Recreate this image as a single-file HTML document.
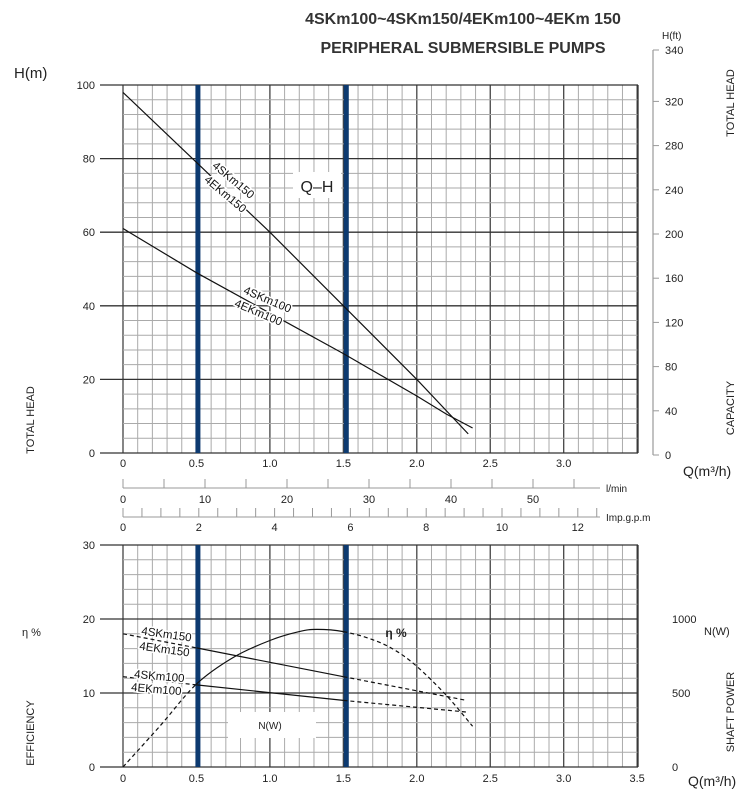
<!DOCTYPE html>
<html><head><meta charset="utf-8"><style>
body{margin:0;background:#fff;}
svg{display:block;font-family:"Liberation Sans",sans-serif;}
</style></head><body>
<svg id="c" width="748" height="800" viewBox="0 0 748 800"></svg>
<script>
// ---- data ----
const qh150Q=[0,0.5,1.0,1.5,2.0,2.35];
const qh150H=[98,79,60,40,20,5.2];
const qh100Q=[0,0.5,1.0,1.5,2.0,2.2,2.38];
const qh100H=[61,49,38,27,15.5,10.6,6.8];
const etaQ=[0,0.25,0.5,0.75,1.0,1.2,1.32,1.5,1.7,1.85,2.0,2.2,2.38];
const etaV=[0,5.5,11.2,14.8,17.1,18.3,18.6,18.3,17.2,15.8,13.6,9.7,5.5];
const n150Q=[0,0.5,1.5,2.34];
const n150W=[900,805,610,450];
const n100Q=[0,0.5,1.5,2.35];
const n100W=[610,555,450,370];
const blueQ=[0.51,1.52];
const topYTicks=[0,20,40,60,80,100];
const ftTicks=[0,40,80,120,160,200,240,280,320];
const qTicksTop=["0","0.5","1.0","1.5","2.0","2.5","3.0"];
const qTicksBot=["0","0.5","1.0","1.5","2.0","2.5","3.0","3.5"];
const lminTicks=[0,10,20,30,40,50];
const gpmTicks=[0,2,4,6,8,10,12];
const effTicks=[0,10,20,30];
const nTicks=[0,500,1000];

const NS="http://www.w3.org/2000/svg";
const svg=document.getElementById('c');
function el(tag,attrs,name,parent){const e=document.createElementNS(NS,tag);for(const k in attrs)e.setAttribute(k,attrs[k]);


(parent||svg).appendChild(e);return e;}
function txt(x,y,s,name,opt){opt=opt||{};const t=el('text',Object.assign({x:x,y:y,'font-size':opt.fs||11,'text-anchor':opt.a||'middle',fill:'#222'},opt.attrs||{}),name);t.textContent=s;return t;}
const X0=123,XS=146.9;
const xQ=q=>X0+q*XS;
const yT=h=>453-h*3.68;
const yB=e=>767-e*7.4;
const yN=w=>yB(w/50);
const yFt=f=>455-f*1.105;

// ---- grids ----
function grid(yTop,yBot,yStep,ymaj){
 const g=el('g',{},'grid');
 for(let i=0;i<=35;i++){const x=xQ(i*0.1);const maj=i%5==0;
  el('line',{x1:x,x2:x,y1:yTop,y2:yBot,stroke:maj?'#444':'#aaa','stroke-width':maj?1.3:1},'grid-v',g);}
 const n=Math.round((yBot-yTop)/yStep);
 for(let j=0;j<=n;j++){const y=yBot-j*yStep;const maj=j%ymaj==0;
  el('line',{x1:maj?100:X0,x2:638,y1:y,y2:y,stroke:maj?'#333':'#aaa','stroke-width':maj?1.3:1},'grid-h',g);}
}
grid(yT(100),yT(0),3.68*4,5);
grid(yB(30),yB(0),7.4*2,5);
el('line',{x1:638,x2:638,y1:yT(100),y2:yT(0),stroke:'#333','stroke-width':1.3},'plot-right-edge');
el('line',{x1:638,x2:638,y1:yB(30),y2:yB(0),stroke:'#333','stroke-width':1.3},'plot-right-edge');
blueQ.forEach(q=>{el('line',{x1:xQ(q),x2:xQ(q),y1:yT(100),y2:yT(0),stroke:'#0d3a70','stroke-width':5},'operating-range-line');
 el('line',{x1:xQ(q),x2:xQ(q),y1:yB(30),y2:yB(0),stroke:'#0d3a70','stroke-width':5},'operating-range-line');});

// ---- axes labels ----
topYTicks.forEach(v=>txt(95,yT(v)+4,String(v),'y-tick-label',{a:'end'}));
ftTicks.forEach(v=>{el('line',{x1:653,x2:659,y1:yFt(v),y2:yFt(v),stroke:'#999'},'ft-tick');txt(665,yFt(v)+4,String(v),'ft-tick-label',{a:'start'});});
el('line',{x1:653,x2:653,y1:50,y2:yFt(0),stroke:'#999','stroke-width':1.2},'ft-axis');
el('line',{x1:653,x2:659,y1:50,y2:50,stroke:'#999'},'ft-tick');
txt(665,54,'340','ft-tick-label',{a:'start'});
txt(662,39,'H(ft)','ft-axis-title',{a:'start',fs:10});
qTicksTop.forEach((s,i)=>txt(xQ(i*0.5),467,s,'x-tick-label'));
el('line',{x1:X0,x2:600,y1:488,y2:488,stroke:'#999'},'lmin-axis');
for(let v=0;v<=55;v+=5){const x=X0+v*8.2;el('line',{x1:x,x2:x,y1:479,y2:488,stroke:'#999'},'lmin-tick');}
lminTicks.forEach(v=>txt(X0+v*8.2,503,String(v),'lmin-tick-label'));
txt(606,492,'l/min','lmin-unit',{a:'start',fs:10});
el('line',{x1:X0,x2:600,y1:517,y2:517,stroke:'#999'},'gpm-axis');
for(let v=0;v<=12.5;v+=0.5){const x=X0+v*37.9;el('line',{x1:x,x2:x,y1:508,y2:517,stroke:'#999'},'gpm-tick');}
gpmTicks.forEach(v=>txt(X0+v*37.9,531,String(v),'gpm-tick-label'));
txt(606,521,'Imp.g.p.m','gpm-unit',{a:'start',fs:10});
effTicks.forEach(v=>txt(95,yB(v)+4,String(v),'eff-tick-label',{a:'end'}));
nTicks.forEach(v=>txt(672,yN(v)+4,String(v),'power-tick-label',{a:'start'}));
qTicksBot.forEach((s,i)=>txt(xQ(i*0.5),782,s,'x-tick-label-bottom'));

txt(463,24,'4SKm100~4SKm150/4EKm100~4EKm 150','chart-title',{fs:16,attrs:{'font-weight':'bold','fill':'#333'}});
txt(463,53,'PERIPHERAL  SUBMERSIBLE PUMPS','chart-subtitle',{fs:16,attrs:{'font-weight':'bold','fill':'#333'}});
txt(14,78,'H(m)','y-axis-title',{a:'start',fs:15});
txt(683,476,'Q(m³/h)','x-axis-title',{a:'start',fs:14});
txt(688,786,'Q(m³/h)','x-axis-title-bottom',{a:'start',fs:14});
txt(22,636,'η %','eff-axis-title',{a:'start',fs:11});
txt(704,635,'N(W)','power-axis-title',{a:'start',fs:11});
function vtxt(x,y,s,name){txt(x,y,s,name,{fs:11,attrs:{transform:`rotate(-90 ${x} ${y})`}});}
vtxt(734,103,'TOTAL HEAD','right-total-head-label');
vtxt(734,408,'CAPACITY','capacity-label');
vtxt(34,420,'TOTAL HEAD','left-total-head-label');
vtxt(34,733,'EFFICIENCY','efficiency-label');
vtxt(734,712,'SHAFT POWER','shaft-power-label');

// ---- curves ----
function path(qs,vs,ys,from,to,dash,name,smooth){
 const P=[];for(let i=from;i<=to;i++)P.push([xQ(qs[i]),ys(vs[i])]);
 let d='M'+P[0][0].toFixed(1)+','+P[0][1].toFixed(1);
 for(let i=0;i<P.length-1;i++){
  if(smooth){const gi=from+i;const p0=[xQ(qs[Math.max(gi-1,0)]),ys(vs[Math.max(gi-1,0)])],p1=P[i],p2=P[i+1],n=Math.min(gi+2,qs.length-1),p3=[xQ(qs[n]),ys(vs[n])];
   const c1=[p1[0]+(p2[0]-p0[0])/6,p1[1]+(p2[1]-p0[1])/6],c2=[p2[0]-(p3[0]-p1[0])/6,p2[1]-(p3[1]-p1[1])/6];
   d+=`C${c1[0].toFixed(1)},${c1[1].toFixed(1)} ${c2[0].toFixed(1)},${c2[1].toFixed(1)} ${p2[0].toFixed(1)},${p2[1].toFixed(1)}`;}
  else d+='L'+P[i+1][0].toFixed(1)+','+P[i+1][1].toFixed(1);}
 const a={d:d,fill:'none',stroke:'#111','stroke-width':1.2};if(dash)a['stroke-dasharray']='4,3';return el('path',a,name);}
path(qh150Q,qh150H,yT,0,qh150Q.length-1,false,'qh-curve-150');
path(qh100Q,qh100H,yT,0,qh100Q.length-1,false,'qh-curve-100');
function seg(qs,vs,ys,name,sm){const i1=qs.findIndex(q=>q>=0.5),i2=qs.findIndex(q=>q>=1.5);
 path(qs,vs,ys,0,i1,true,name+'-dashed-low',sm);path(qs,vs,ys,i1,i2,false,name+'-solid',sm);path(qs,vs,ys,i2,qs.length-1,true,name+'-dashed-high',sm);}
seg(etaQ,etaV,yB,'efficiency-curve',true);
seg(n150Q,n150W,yN,'power-curve-150',false);
seg(n100Q,n100W,yN,'power-curve-100',false);

// ---- labels on curves ----
el('rect',{x:293,y:172,width:48,height:26,fill:'#fff'},'qh-label-bg');
txt(317,192,'Q–H','qh-label',{fs:16});
function rtxt(x,y,ang,s,name){const g=el('text',{x:x,y:y,'font-size':11.5,'text-anchor':'middle',fill:'#111',transform:`rotate(${ang} ${x} ${y})`,stroke:'#fff','stroke-width':3,'paint-order':'stroke'},name);g.textContent=s;}
rtxt(231,183,40,'4SKm150','label-4skm150');
rtxt(223,197,40,'4EKm150','label-4ekm150');
rtxt(266,303,23,'4SKm100','label-4skm100');
rtxt(257,316,23,'4EKm100','label-4ekm100');
rtxt(166,638,8,'4SKm150','label-n-4skm150');
rtxt(164,653,8,'4EKm150','label-n-4ekm150');
rtxt(159,680,5,'4SKm100','label-n-4skm100');
rtxt(156,693,5,'4EKm100','label-n-4ekm100');
el('rect',{x:228,y:712,width:88,height:26,fill:'#fff'},'nw-label-bg');
txt(270,729,'N(W)','nw-label',{fs:10});
txt(396,637,'η %','eta-label',{fs:12,attrs:{'font-weight':'bold'}});
</script>
</body></html>
